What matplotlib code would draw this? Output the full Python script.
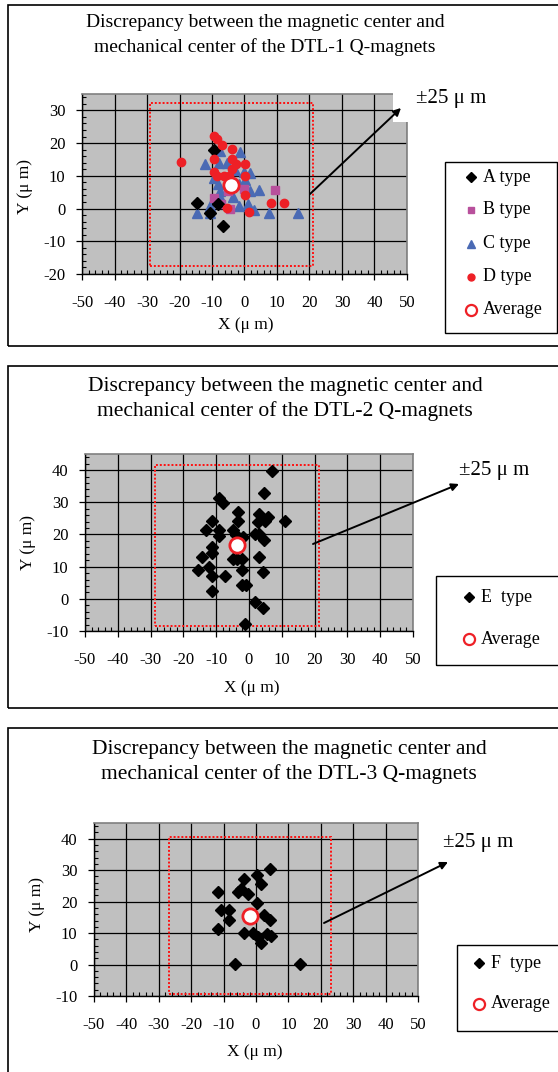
import matplotlib
matplotlib.use('Agg')
import matplotlib.pyplot as plt
from matplotlib.patches import Rectangle, FancyArrowPatch
from matplotlib.lines import Line2D
from matplotlib.ticker import MultipleLocator

plt.rcParams['font.family'] = ['Liberation Serif', 'DejaVu Serif']
plt.rcParams['axes.unicode_minus'] = False

W, H = 558, 1072

# ---------------- data ----------------
# DTL-1
A_x = [-9.3, -14.6, -6.5, -8.0, -10.6]
A_y = [17.8, 1.6, -5.4, 1.4, -1.4]
B_x = [9.4, -9.5, -7.2, -5.1, 0.0, -4.4]
B_y = [5.8, 3.2, 1.4, 5.5, 6.0, -0.1]
C_x = [-7.5, -1.3, -12.3, -7.7, -5.4, -2.9, -0.3, 1.7, -9.5, -8.2, -7.5, -1.8, 0.2,
       1.7, 4.5, -7.5, -3.6, -10.6, -1.8, 1.2, -14.7, -10.6, 2.8, 7.4, 16.6]
C_y = [17.5, 17.3, 13.5, 13.9, 13.9, 11.7, 11.2, 10.9, 9.4, 7.6, 5.5, 7.6, 8.6,
       5.5, 5.7, 3.5, 3.5, 0.9, 0.9, 1.4, -1.4, -1.4, -0.4, -1.4, -1.4]
D_x = [-9.5, -8.5, -6.8, -3.9, -19.5, -9.5, -3.9, -2.7, 0.2, -3.9, -9.5, -8.5, -6.2,
       -4.7, 0.2, 0.2, 8.2, 12.3, -5.4, 1.4]
D_y = [22.2, 21.4, 19.4, 18.1, 14.1, 15.1, 15.1, 13.5, 13.5, 12.2, 11.2, 9.8, 9.8,
       9.8, 9.8, 4.2, 1.8, 1.8, 0.1, -1.1]
avg1 = (-4.0, 7.3)

# DTL-2
E_x = [7.1, 4.7, -9.1, -7.8, -3.4, 3.0, 5.9, 11.0, -11.4, -3.4, 2.8, 4.9, -13.1, -9.1,
       -9.1, -5.0, -4.0, -1.9, 1.8, 3.1, 4.7, -11.4, -11.4, -14.2, -5.0, -3.6, -2.0, 3.0,
       -12.1, -15.5, -2.1, 4.2, -11.4, -7.3, -2.2, -0.9, -11.4, 1.8, 4.2, -1.2]
E_y = [39.7, 32.8, 31.2, 29.9, 27.0, 26.5, 25.5, 24.1, 24.1, 24.1, 23.9, 24.1, 21.3, 21.3,
       19.5, 21.3, 19.8, 19.3, 20.1, 20.1, 18.2, 16.0, 14.1, 12.9, 12.3, 12.3, 12.3, 12.9,
       9.9, 8.9, 8.9, 8.2, 7.1, 7.1, 4.3, 4.3, 2.5, -0.9, -2.7, -7.9]
avg2 = (-3.7, 16.7)

# DTL-3
F_x = [4.4, 0.3, -3.6, 1.5, -4.5, -5.6, -11.8, -2.6, 0.3, -10.7, -8.2, -8.2, 2.6, 4.4,
       -11.8, -3.6, -1.0, 0.5, 1.5, 3.4, 4.7, -6.6, 13.7]
F_y = [30.3, 28.4, 27.2, 25.5, 23.9, 23.0, 23.0, 22.4, 19.7, 17.2, 17.2, 14.2, 15.8, 14.2,
       11.3, 10.0, 10.0, 8.9, 7.0, 9.8, 9.1, 0.3, 0.3]
avg3 = (-1.8, 15.5)

HALF = 25
x_ticks = [-50, -40, -30, -20, -10, 0, 10, 20, 30, 40, 50]

titles = ["Discrepancy between the magnetic center and\nmechanical center of the DTL-1 Q-magnets",
          "Discrepancy between the magnetic center and\nmechanical center of the DTL-2 Q-magnets",
          "Discrepancy between the magnetic center and\nmechanical center of the DTL-3 Q-magnets"]

# ---------------- styles ----------------
BG = '#C0C0C0'
sty = {
    'A': dict(marker='D', color='black', ms=6),
    'B': dict(marker='s', color='#B8509C', ms=5.5),
    'C': dict(marker='^', color='#4A6AB4', ms=7.5),
    'D': dict(marker='o', color='#EE2026', ms=6),
    'E': dict(marker='D', color='black', ms=6.5),
    'F': dict(marker='D', color='black', ms=6.5),
}
AVG = dict(marker='o', mfc='white', mec='#EE2026', mew=2.0, ms=11)

fig = plt.figure(figsize=(W / 100, H / 100), dpi=100)


def fx(x):
    return x / W


def fy(y):
    return 1 - y / H


def make_axes(l, t, r, b, ylim):
    ax = fig.add_axes([l / W, 1 - b / H, (r - l) / W, (b - t) / H])
    ax.set_facecolor(BG)
    ax.set_xlim(-50, 50)
    ax.set_ylim(*ylim)
    ax.set_xticks(x_ticks)
    ax.yaxis.set_major_locator(MultipleLocator(10))
    ax.xaxis.set_minor_locator(MultipleLocator(2))
    ax.yaxis.set_minor_locator(MultipleLocator(2))
    ax.grid(True, which='major', color='black', lw=0.9)
    ax.set_axisbelow(True)
    ax.tick_params(which='major', direction='out', length=4, width=0.9, labelsize=12)
    ax.tick_params(axis='x', which='major', pad=11)
    ax.tick_params(axis='y', which='major', pad=8)
    ax.tick_params(which='minor', direction='in', length=3, width=0.8)
    for s in ['left', 'bottom']:
        ax.spines[s].set_color('black')
        ax.spines[s].set_linewidth(1.0)
    for s in ['top', 'right']:
        ax.spines[s].set_color('#808080')
        ax.spines[s].set_linewidth(1.2)
    return ax


def draw_rect(ax, avg):
    ax.add_patch(Rectangle((avg[0] - HALF, avg[1] - HALF), 2 * HALF, 2 * HALF,
                           fill=False, ec='#FF1010', ls=(0, (1, 1)), lw=1.4, zorder=2))


def pts(ax, xs, ys, key):
    ax.plot(xs, ys, ls='none', zorder=3, **sty[key])


def frame(t, b):
    fig.add_artist(Rectangle((fx(8), fy(b)), (570 - 8) / W, (b - t) / H,
                             transform=fig.transFigure, fill=False, ec='black', lw=1.2))


def arrow(p0, p1, tx, ty):
    fig.add_artist(FancyArrowPatch((fx(p0[0]), fy(p0[1])), (fx(p1[0]), fy(p1[1])),
                                   transform=fig.transFigure, arrowstyle='-|>',
                                   mutation_scale=11, lw=1.4, color='black', zorder=10,
                                   shrinkA=0, shrinkB=0))
    fig.text(fx(tx), fy(ty), "±25 μ m", ha='left', va='center', fontsize=15, zorder=11)


def legend(l, t, r, b, entries, xm, xt):
    fig.add_artist(Rectangle((fx(l), fy(b)), (r - l) / W, (b - t) / H,
                             transform=fig.transFigure, fill=False, ec='black', lw=1.0))
    for mk, label, y in entries:
        fig.add_artist(Line2D([fx(xm)], [fy(y)], transform=fig.transFigure, ls='none', **mk))
        fig.text(fx(xt), fy(y), label, ha='left', va='center', fontsize=13)


def labels(ax, title_xy, title_fs, ls, xl_xy, yl_xy, title):
    fig.text(fx(title_xy[0]), fy(title_xy[1]), title, ha='center', va='center',
             fontsize=title_fs, linespacing=ls)
    fig.text(fx(xl_xy[0]), fy(xl_xy[1]), "X (μ m)", ha='center', va='center', fontsize=12.5)
    fig.text(fx(yl_xy[0]), fy(yl_xy[1]), "Y (μ m)", ha='center', va='center', fontsize=12.5,
             rotation=90)


# ---------------- panel 1 ----------------
frame(5, 346)
ax1 = make_axes(82, 94, 407, 274, (-20, 35))
draw_rect(ax1, avg1)
pts(ax1, C_x, C_y, 'C')
pts(ax1, B_x, B_y, 'B')
pts(ax1, A_x, A_y, 'A')
pts(ax1, D_x, D_y, 'D')
ax1.plot([avg1[0]], [avg1[1]], ls='none', zorder=5, **AVG)
# white text box covering top-right corner of plot area
fig.add_artist(Rectangle((fx(393), fy(122)), 120 / W, 50 / H, transform=fig.transFigure,
                         fc='white', ec='none', zorder=9))
arrow((310, 194), (401, 108), 416, 99)
labels(ax1, (265, 35), 14, 1.45, (246, 325), (25, 186), titles[0])
legend(445, 162, 557, 333,
       [(dict(sty['A'], ms=5), "A type", 177),
        (dict(sty['B'], ms=5), "B type", 210),
        (dict(sty['C'], ms=6), "C type", 244),
        (dict(sty['D'], ms=5), "D type", 277),
        (dict(AVG, ms=8, mew=1.6), "Average", 310)], 471, 483)

# ---------------- panel 2 ----------------
frame(366, 708)
ax2 = make_axes(85, 454, 413, 631, (-10, 45))
draw_rect(ax2, avg2)
pts(ax2, E_x, E_y, 'E')
ax2.plot([avg2[0]], [avg2[1]], ls='none', zorder=5, **AVG)
arrow((313, 544), (459, 484), 459, 470)
labels(ax2, (285, 399), 15.5, 1.35, (252, 688), (28, 542), titles[1])
legend(436, 576, 570, 665,
       [(dict(sty['E'], ms=5), "E  type", 597),
        (dict(AVG, ms=8, mew=1.6), "Average", 639)], 469, 481)

# ---------------- panel 3 ----------------
frame(728, 1090)
ax3 = make_axes(94, 823, 418, 996, (-10, 45))
draw_rect(ax3, avg3)
pts(ax3, F_x, F_y, 'F')
ax3.plot([avg3[0]], [avg3[1]], ls='none', zorder=5, **AVG)
arrow((324, 923), (448, 862), 443, 843)
labels(ax3, (289, 762), 15.5, 1.35, (255, 1052), (37, 905), titles[2])
legend(457, 945, 570, 1031,
       [(dict(sty['F'], ms=5), "F  type", 963),
        (dict(AVG, ms=8, mew=1.6), "Average", 1004)], 479, 491)

fig.savefig('out.png', dpi=100)
